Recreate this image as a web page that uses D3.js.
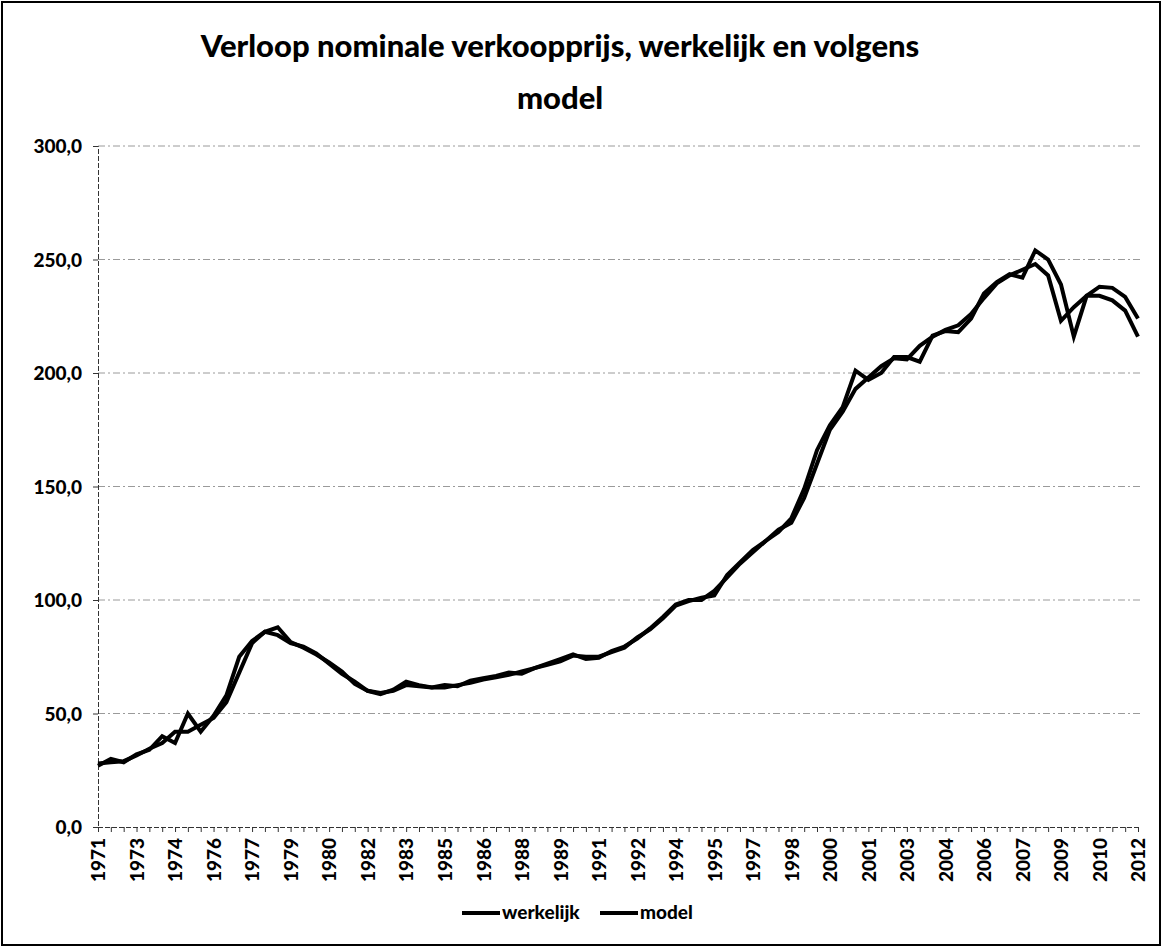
<!DOCTYPE html>
<html>
<head>
<meta charset="utf-8">
<script src="https://cdn.jsdelivr.net/npm/d3@7"></script>
<style>
  html, body { margin: 0; padding: 0; background: #fff; }
  svg { display: block; }
  text { font-family: Lato, "Open Sans", sans-serif; font-weight: 900; fill: #000; }
</style>
</head>
<body>
<svg id="chart" width="1163" height="948"></svg>
<script>
// Half-year periods, second half of 1971 through first half of 2012
const periods = [
  "1971-2",
  "1972-1","1972-2","1973-1","1973-2","1974-1","1974-2","1975-1","1975-2","1976-1","1976-2",
  "1977-1","1977-2","1978-1","1978-2","1979-1","1979-2","1980-1","1980-2","1981-1","1981-2",
  "1982-1","1982-2","1983-1","1983-2","1984-1","1984-2","1985-1","1985-2","1986-1","1986-2",
  "1987-1","1987-2","1988-1","1988-2","1989-1","1989-2","1990-1","1990-2","1991-1","1991-2",
  "1992-1","1992-2","1993-1","1993-2","1994-1","1994-2","1995-1","1995-2","1996-1","1996-2",
  "1997-1","1997-2","1998-1","1998-2","1999-1","1999-2","2000-1","2000-2","2001-1","2001-2",
  "2002-1","2002-2","2003-1","2003-2","2004-1","2004-2","2005-1","2005-2","2006-1","2006-2",
  "2007-1","2007-2","2008-1","2008-2","2009-1","2009-2","2010-1","2010-2","2011-1","2011-2",
  "2012-1"
];

// Actual selling price (index)
const werkelijk = [
  27, 30, 28.5, 32, 34, 40, 37, 50, 42, 49,
  58, 75, 82, 86, 84.5, 81, 79.5, 76.5, 72, 67.5,
  64, 60, 58.5, 60.5, 64, 62.5, 61.5, 62.5, 62, 64.5,
  65.5, 66.5, 68, 67.5, 70, 72, 74, 76, 74, 74.5,
  77.5, 79.5, 83, 87.5, 92.5, 98, 100, 100, 104, 110,
  116, 121, 126, 130, 136, 149, 166, 177, 185, 201,
  197, 200, 207, 207, 205, 216.5, 218.5, 218, 224, 235,
  240, 243.5, 242, 254, 250, 239, 216, 234, 238, 237.5,
  233.5, 224
];

// Price according to the model
const model = [
  28, 28.5, 29, 31.5, 34.5, 37, 42, 42, 45, 48,
  55, 68, 81, 86, 88, 81.5, 79, 76, 72.5, 68.5,
  63, 60, 59, 60, 62.5, 62, 61.5, 61.5, 62.5, 63.5,
  65, 66, 67, 68.5, 70, 71.5, 73, 75.5, 75, 75,
  77, 79, 83.5, 87, 92, 97.5, 99.5, 101, 102, 111,
  116.5, 122, 126, 131, 134, 145, 160, 175, 183, 193,
  198, 203, 206.5, 206, 212, 216, 219, 221, 226, 233,
  239.5, 243, 245.5, 248, 243, 223, 229, 234, 234, 232,
  227.5, 216
];

// Axis labels
const yTicks = [0, 50, 100, 150, 200, 250, 300];
const xTickLabels = [
  "1971","1973","1974","1976","1977","1979","1980","1982","1983","1985",
  "1986","1988","1989","1991","1992","1994","1995","1997","1998","2000",
  "2001","2003","2004","2006","2007","2009","2010","2012"
];
const titleLines = ["Verloop nominale verkoopprijs, werkelijk en volgens", "model"];
const seriesNames = ["werkelijk", "model"];

const W = 1163, H = 948;
const plot = { left: 98, right: 1138, top: 146, bottom: 827 };

const svg = d3.select("#chart");
const nl = d3.formatLocale({ decimal: ",", thousands: ".", grouping: [3], currency: ["€", ""] });
const fmt = nl.format(".1f");

// Outer frame
svg.append("rect")
  .attr("x", 2).attr("y", 2).attr("width", W - 5).attr("height", H - 5)
  .attr("fill", "#fff").attr("stroke", "#000").attr("stroke-width", 2);

// Title
svg.append("g").selectAll("text").data(titleLines).join("text")
  .attr("x", 560).attr("y", (d, i) => 57 + i * 52)
  .attr("text-anchor", "middle")
  .style("font-size", "31px")
  .text(d => d);

const x = d3.scalePoint().domain(periods).range([plot.left, plot.right]);
const y = d3.scaleLinear().domain([0, 300]).range([plot.bottom, plot.top]);

// Horizontal gridlines
svg.append("g").selectAll("line").data(yTicks.filter(d => d > 0)).join("line")
  .attr("x1", plot.left).attr("x2", 1141)
  .attr("y1", d => y(d)).attr("y2", d => y(d))
  .attr("stroke", "#9a9a9a").attr("stroke-width", 1)
  .attr("stroke-dasharray", "7,3,2,3");

// Y axis
const yAxis = svg.append("g")
  .attr("transform", `translate(${plot.left},0)`)
  .call(d3.axisLeft(y).tickValues(yTicks).tickFormat(fmt).tickSize(5).tickPadding(11));
yAxis.select(".domain").attr("stroke", "#333").attr("stroke-dasharray", "5,2");
yAxis.selectAll(".tick line").attr("stroke", "#333");
yAxis.selectAll(".tick text")
  .style("font-size", "19px").style("font-family", "Lato, sans-serif").style("font-weight", 900)
  .attr("dy", "0.36em");

// X axis: a tick for every period, a year label on every third
const labelled = periods.filter((d, i) => i % 3 === 0);
const labelOf = new Map(labelled.map((p, k) => [p, xTickLabels[k]]));
const xAxis = svg.append("g")
  .attr("transform", `translate(0,${plot.bottom})`)
  .call(d3.axisBottom(x).tickValues(periods).tickFormat(d => labelOf.get(d) || "").tickSize(5).tickSizeOuter(0));
xAxis.select(".domain").attr("stroke", "#333").attr("stroke-dasharray", "5,2")
  .attr("d", `M${plot.left},0.5H1141`);
xAxis.selectAll(".tick line").attr("stroke", "#333");
xAxis.selectAll(".tick text")
  .style("font-size", "19px").style("font-family", "Lato, sans-serif").style("font-weight", 900)
  .attr("text-anchor", "end")
  .attr("transform", "rotate(-90)")
  .attr("x", -11).attr("y", 0).attr("dy", "0.36em");

// Series lines
const line = d3.line().x((d, i) => x(periods[i])).y(d => y(d)).curve(d3.curveLinear);
svg.append("g").selectAll("path").data([werkelijk, model]).join("path")
  .attr("d", d => line(d))
  .attr("fill", "none").attr("stroke", "#000")
  .attr("stroke-width", 4).attr("stroke-linejoin", "miter").attr("stroke-miterlimit", 4);

// Legend
const legend = svg.append("g");
const lx = [462, 600];
seriesNames.forEach((name, i) => {
  legend.append("line")
    .attr("x1", lx[i]).attr("x2", lx[i] + 38)
    .attr("y1", 913).attr("y2", 913)
    .attr("stroke", "#000").attr("stroke-width", 4);
  legend.append("text")
    .attr("x", lx[i] + 40).attr("y", 919)
    .style("font-size", "19px")
    .text(name);
});
</script>
</body>
</html>
